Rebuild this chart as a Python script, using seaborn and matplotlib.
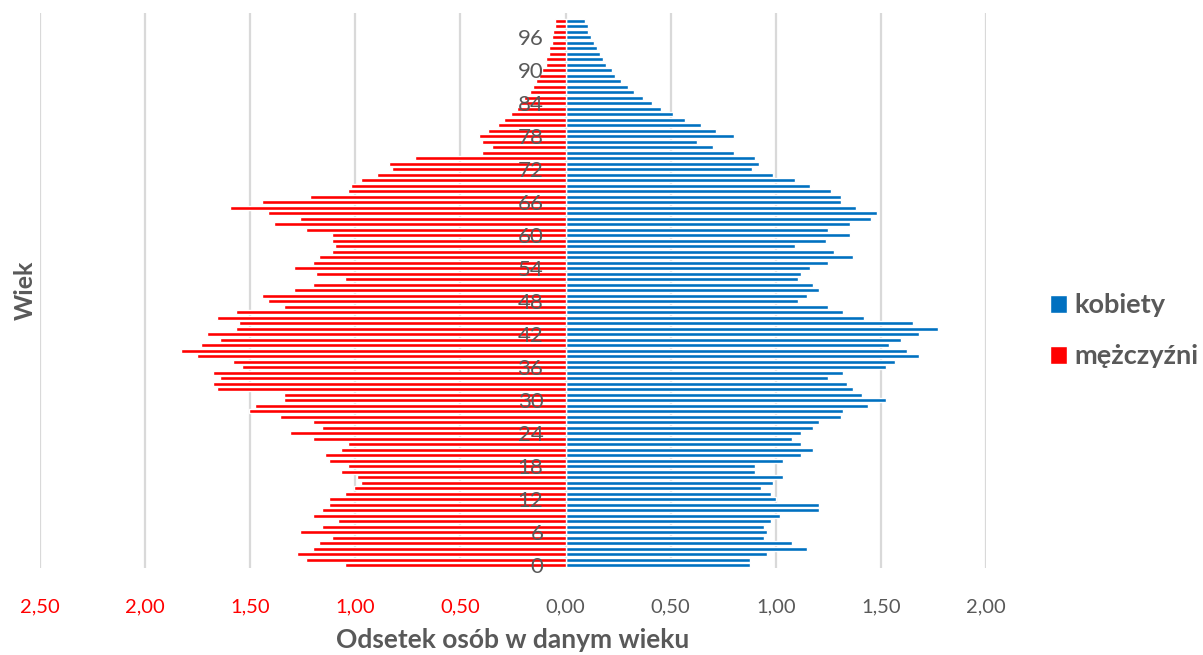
import matplotlib
matplotlib.use("Agg")
import matplotlib.pyplot as plt
import seaborn as sns
import pandas as pd

# ---- data -------------------------------------------------------------
ages = list(range(100))
kobiety = [
    0.875, 0.875, 0.960, 1.149, 1.078, 0.946, 0.960, 0.946, 0.975, 1.019,
    1.206, 1.206, 1.003, 0.975, 0.932, 0.989, 1.033, 0.903, 0.903, 1.033,
    1.119, 1.178, 1.119, 1.078, 1.119, 1.178, 1.206, 1.308, 1.322, 1.438,
    1.525, 1.408, 1.365, 1.337, 1.249, 1.322, 1.525, 1.567, 1.683, 1.625,
    1.540, 1.597, 1.683, 1.770, 1.654, 1.422, 1.322, 1.249, 1.105, 1.149,
    1.206, 1.178, 1.105, 1.119, 1.163, 1.249, 1.365, 1.278, 1.092, 1.237,
    1.352, 1.249, 1.352, 1.452, 1.481, 1.381, 1.308, 1.308, 1.265, 1.163,
    1.092, 0.989, 0.889, 0.918, 0.903, 0.802, 0.700, 0.627, 0.802, 0.714,
    0.643, 0.570, 0.513, 0.452, 0.411, 0.367, 0.324, 0.295, 0.265, 0.237,
    0.222, 0.192, 0.179, 0.163, 0.149, 0.135, 0.121, 0.106, 0.106, 0.092,
]
mezczyzni = [
    1.051, 1.233, 1.279, 1.203, 1.173, 1.111, 1.263, 1.157, 1.081, 1.203,
    1.157, 1.127, 1.127, 1.051, 1.005, 0.975, 0.990, 1.067, 1.035, 1.127,
    1.143, 1.067, 1.035, 1.203, 1.310, 1.157, 1.203, 1.356, 1.508, 1.476,
    1.340, 1.340, 1.659, 1.675, 1.644, 1.675, 1.538, 1.584, 1.751, 1.827,
    1.735, 1.644, 1.705, 1.568, 1.552, 1.659, 1.568, 1.340, 1.416, 1.446,
    1.294, 1.203, 1.051, 1.187, 1.294, 1.203, 1.173, 1.111, 1.097, 1.111,
    1.111, 1.233, 1.386, 1.263, 1.416, 1.598, 1.446, 1.217, 1.035, 1.021,
    0.975, 0.898, 0.824, 0.838, 0.716, 0.397, 0.352, 0.397, 0.411, 0.367,
    0.321, 0.292, 0.260, 0.230, 0.216, 0.200, 0.171, 0.156, 0.140, 0.127,
    0.111, 0.095, 0.095, 0.079, 0.079, 0.063, 0.063, 0.060, 0.048, 0.048,
]
series_names = ["kobiety", "mężczyźni"]
x_ticks = [-2.5, -2.0, -1.5, -1.0, -0.5, 0.0, 0.5, 1.0, 1.5, 2.0]
age_ticks = list(range(0, 97, 6))
x_label = "Odsetek osób w danym wieku"
y_label = "Wiek"

palette = {"kobiety": "#0070C0", "mężczyźni": "#FF0000"}
GREY = "#595959"

df = pd.concat([
    pd.DataFrame({"Wiek": ages, "Odsetek": kobiety, "Płeć": series_names[0]}),
    pd.DataFrame({"Wiek": ages, "Odsetek": [-v for v in mezczyzni], "Płeć": series_names[1]}),
], ignore_index=True)

# ---- style ------------------------------------------------------------
sns.set_theme(style="white")
plt.rcParams["font.family"] = ["Lato", "DejaVu Sans"]

fig = plt.figure(figsize=(12.03, 6.55), dpi=100)
ax = fig.add_axes([40 / 1203, 1 - 568 / 655, 946 / 1203, (568 - 12.7) / 655])

sns.barplot(data=df, x="Odsetek", y="Wiek", hue="Płeć", hue_order=series_names,
            palette=palette, orient="y", native_scale=True, dodge=False,
            width=0.72, saturation=1, errorbar=None, ax=ax, zorder=2)

ax.set_xlim(-2.5, 2.0)
ax.set_ylim(-0.5, 100.5)

# vertical gridlines drawn beneath the bars; axis text stays on top
ax.grid(False)
for xv in x_ticks:
    ax.axvline(xv, color="#D9D9D9", linewidth=1.6, zorder=0)
ax.set_axisbelow(False)
for s in ["top", "right", "bottom"]:
    ax.spines[s].set_visible(False)
ax.spines["left"].set_position(("data", 0))
ax.spines["left"].set_visible(False)

# x ticks
tick_font = ["Liberation Sans Narrow", "Lato", "DejaVu Sans"]
ax.set_xticks(x_ticks)
ax.set_xticklabels([f"{abs(v):.2f}".replace(".", ",") for v in x_ticks],
                   family=tick_font, fontsize=14.5)
for v, lab in zip(x_ticks, ax.get_xticklabels()):
    lab.set_color("#FF0000" if v < 0 else GREY)
ax.tick_params(axis="x", length=0, pad=22)

# y ticks (ages) next to the zero line, drawn over the bars
ax.set_yticks(age_ticks)
ax.set_yticklabels([str(a) for a in age_ticks], family=tick_font, fontsize=16)
ax.tick_params(axis="y", length=0, pad=16, labelcolor=GREY)
ax.yaxis.set_zorder(5)

ax.set_xlabel(x_label, fontsize=19, fontweight="bold", color=GREY, labelpad=9)
ax.set_ylabel(y_label, fontsize=18, fontweight="bold", color=GREY)
ax.yaxis.set_label_coords(-0.003, 0.5)

sns.move_legend(ax, loc="center left", bbox_to_anchor=(1.0677, 0.427),
                frameon=False, title=None, handlelength=0.63, handleheight=0.63,
                handletextpad=0.25, labelspacing=1.0, borderpad=0,
                borderaxespad=0,
                prop={"weight": "bold", "size": 19.5, "family": "Lato"},
                labelcolor=GREY)

fig.savefig("out.png", dpi=100)
